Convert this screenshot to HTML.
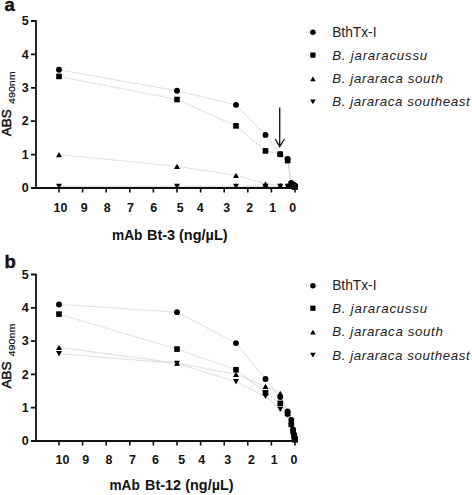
<!DOCTYPE html>
<html><head><meta charset="utf-8"><style>
html,body{margin:0;padding:0;background:#fff;}
svg{display:block;font-family:"Liberation Sans", sans-serif;}
</style></head><body>
<svg width="472" height="495" viewBox="0 0 472 495">
<rect width="472" height="495" fill="#fff"/>
<text x="4.6" y="10.9" font-size="18.5" font-weight="bold" fill="#111" stroke="#111" stroke-width="0.4">a</text>
<polyline points="59,69.76 177,90.81 236,104.83 265.5,134.89 280.25,154.27 287.62,158.94 291.32,182.99 293.16,184.33 294.08,185.33 294.54,186 295,186.33" fill="none" stroke="#d2d2d2" stroke-width="1.15" stroke-dasharray="1.2 0.7"/>
<polyline points="59,76.44 177,99.49 236,125.88 265.5,150.93 280.25,154.27 287.62,160.61 291.32,183.99 293.16,185.33 294.08,186 294.54,186.33 295,186.66" fill="none" stroke="#d2d2d2" stroke-width="1.15" stroke-dasharray="1.2 0.7"/>
<polyline points="59,154.6 177,166.29 236,175.31 265.5,183.99 280.25,185.5 287.62,186 291.32,186.33 293.16,186.33 294.08,186.66 294.54,186.66 295,187" fill="none" stroke="#d2d2d2" stroke-width="1.15" stroke-dasharray="1.2 0.7"/>
<polyline points="59,186.33 177,186.33 236,186.33 265.5,186.33 280.25,186.33 287.62,186.33 291.32,186.66 293.16,186.66 294.08,186.66 294.54,186.66 295,187" fill="none" stroke="#d2d2d2" stroke-width="1.15" stroke-dasharray="1.2 0.7"/>
<g fill="#000">
<circle cx="59" cy="69.76" r="2.95"/>
<circle cx="177" cy="90.81" r="2.95"/>
<circle cx="236" cy="104.83" r="2.95"/>
<circle cx="265.5" cy="134.89" r="2.95"/>
<circle cx="280.25" cy="154.27" r="2.95"/>
<circle cx="287.62" cy="158.94" r="2.95"/>
<circle cx="291.32" cy="182.99" r="2.95"/>
<circle cx="293.16" cy="184.33" r="2.95"/>
<circle cx="294.08" cy="185.33" r="2.95"/>
<circle cx="294.54" cy="186" r="2.95"/>
<circle cx="295" cy="186.33" r="2.95"/>
<rect x="56.2" y="73.64" width="5.6" height="5.6"/>
<rect x="174.2" y="96.69" width="5.6" height="5.6"/>
<rect x="233.2" y="123.08" width="5.6" height="5.6"/>
<rect x="262.7" y="148.13" width="5.6" height="5.6"/>
<rect x="277.45" y="151.47" width="5.6" height="5.6"/>
<rect x="284.82" y="157.81" width="5.6" height="5.6"/>
<rect x="288.52" y="181.19" width="5.6" height="5.6"/>
<rect x="290.36" y="182.53" width="5.6" height="5.6"/>
<rect x="291.28" y="183.2" width="5.6" height="5.6"/>
<rect x="291.74" y="183.53" width="5.6" height="5.6"/>
<rect x="292.2" y="183.86" width="5.6" height="5.6"/>
<path d="M59 151.95L62 157.25L56 157.25Z"/>
<path d="M177 163.64L180 168.94L174 168.94Z"/>
<path d="M236 172.66L239 177.96L233 177.96Z"/>
<path d="M265.5 181.34L268.5 186.64L262.5 186.64Z"/>
<path d="M280.25 182.84L283.25 188.15L277.25 188.15Z"/>
<path d="M287.62 183.35L290.62 188.65L284.62 188.65Z"/>
<path d="M291.32 183.68L294.32 188.98L288.32 188.98Z"/>
<path d="M293.16 183.68L296.16 188.98L290.16 188.98Z"/>
<path d="M294.08 184.01L297.08 189.31L291.08 189.31Z"/>
<path d="M294.54 184.01L297.54 189.31L291.54 189.31Z"/>
<path d="M295 184.35L298 189.65L292 189.65Z"/>
<path d="M59 188.98L62 183.68L56 183.68Z"/>
<path d="M177 188.98L180 183.68L174 183.68Z"/>
<path d="M236 188.98L239 183.68L233 183.68Z"/>
<path d="M265.5 188.98L268.5 183.68L262.5 183.68Z"/>
<path d="M280.25 188.98L283.25 183.68L277.25 183.68Z"/>
<path d="M287.62 188.98L290.62 183.68L284.62 183.68Z"/>
<path d="M291.32 189.31L294.32 184.01L288.32 184.01Z"/>
<path d="M293.16 189.31L296.16 184.01L290.16 184.01Z"/>
<path d="M294.08 189.31L297.08 184.01L291.08 184.01Z"/>
<path d="M294.54 189.31L297.54 184.01L291.54 184.01Z"/>
<path d="M295 189.65L298 184.35L292 184.35Z"/>
</g>
<path d="M279.7 107.5V146M275.2 139L279.7 146.6L284.4 139" stroke="#1a1a1a" stroke-width="1.35" fill="none"/>
<path d="M36 20.3V188.9M31 188H297" stroke="#111" stroke-width="1.8" fill="none"/>
<path d="M31 188H36M31 154.6H36M31 121.2H36M31 87.8H36M31 54.4H36M31 21H36" stroke="#111" stroke-width="1.8" fill="none"/>
<path d="M295 188V192.5M271.4 188V192.5M247.8 188V192.5M224.2 188V192.5M200.6 188V192.5M177 188V192.5M153.4 188V192.5M129.8 188V192.5M106.2 188V192.5M82.6 188V192.5M59 188V192.5" stroke="#111" stroke-width="1.6" fill="none"/>
<g font-size="12.5" font-weight="bold" text-anchor="end" fill="#111">
<text x="28.6" y="192.1">0</text>
<text x="28.6" y="158.7">1</text>
<text x="28.6" y="125.3">2</text>
<text x="28.6" y="91.9">3</text>
<text x="28.6" y="58.5">4</text>
<text x="28.6" y="25.1">5</text>
</g>
<g font-size="12.4" font-weight="bold" text-anchor="middle" fill="#111">
<text x="60.5" y="211.9">10</text>
<text x="84.2" y="211.9">9</text>
<text x="107.1" y="211.9">8</text>
<text x="130.4" y="211.9">7</text>
<text x="153.6" y="211.9">6</text>
<text x="180.2" y="211.9">5</text>
<text x="200.2" y="211.9">4</text>
<text x="226.6" y="211.9">3</text>
<text x="249.7" y="211.9">2</text>
<text x="272.7" y="211.9">1</text>
<text x="292.6" y="211.9">0</text>
</g>
<g font-size="14" font-weight="bold" fill="#111">
<text x="112" y="239.6" textLength="30.5" lengthAdjust="spacingAndGlyphs">mAb</text>
<text x="147" y="239.6" textLength="28.1" lengthAdjust="spacingAndGlyphs">Bt-3</text>
<text x="179" y="239.6" textLength="48.6" lengthAdjust="spacingAndGlyphs">(ng/µL)</text>
</g>
<text transform="translate(11.2 136.2) rotate(-90)" font-size="13.6" fill="#111" stroke="#111" stroke-width="0.5" textLength="27" lengthAdjust="spacingAndGlyphs">ABS</text>
<text transform="translate(15.4 104) rotate(-90)" font-size="9.7" fill="#111" stroke="#111" stroke-width="0.2" textLength="32.7" lengthAdjust="spacingAndGlyphs">490nm</text>
<g font-size="14" fill="#222">
<line x1="306" y1="32.3" x2="320" y2="32.3" stroke="#dadada" stroke-width="1" stroke-dasharray="1.2 0.8"/>
<circle cx="312.9" cy="32.3" r="2.74" fill="#000"/>
<text x="332.2" y="36.7" textLength="44.3" lengthAdjust="spacingAndGlyphs">BthTx-I</text>
<line x1="306" y1="55.1" x2="320" y2="55.1" stroke="#dadada" stroke-width="1" stroke-dasharray="1.2 0.8"/>
<rect x="310.3" y="52.5" width="5.21" height="5.21" fill="#000"/>
<text x="332.2" y="59.8" font-style="italic" font-size="13.3" textLength="95" lengthAdjust="spacing">B. jararacussu</text>
<line x1="306" y1="78.9" x2="320" y2="78.9" stroke="#dadada" stroke-width="1" stroke-dasharray="1.2 0.8"/>
<path d="M312.9 76.44L315.69 81.36L310.11 81.36Z" fill="#000"/>
<text x="332.2" y="83" font-style="italic" font-size="13.3" textLength="110.6" lengthAdjust="spacing">B. jararaca south</text>
<line x1="306" y1="101.9" x2="320" y2="101.9" stroke="#dadada" stroke-width="1" stroke-dasharray="1.2 0.8"/>
<path d="M312.9 104.36L315.69 99.44L310.11 99.44Z" fill="#000"/>
<text x="332.2" y="105.9" font-style="italic" font-size="13.3" textLength="137.4" lengthAdjust="spacing">B. jararaca southeast</text>
</g>
<text x="4.6" y="268.4" font-size="18.5" font-weight="bold" fill="#111" stroke="#111" stroke-width="0.4">b</text>
<polyline points="59,304.47 177,312.13 236,343.1 265.5,379.06 280.25,397.04 287.62,411.36 291.32,420.02 293.16,429.68 294.08,434.34 294.54,437.67 295,439.33" fill="none" stroke="#d2d2d2" stroke-width="1.15" stroke-dasharray="1.2 0.7"/>
<polyline points="59,314.13 177,349.09 236,369.74 265.5,392.72 280.25,403.37 287.62,413.69 291.32,424.35 293.16,431.34 294.08,435.67 294.54,438.34 295,439.67" fill="none" stroke="#d2d2d2" stroke-width="1.15" stroke-dasharray="1.2 0.7"/>
<polyline points="59,347.43 177,363.08 236,374.4 265.5,386.39 280.25,393.38 287.62,412.69 291.32,422.02 293.16,430.68 294.08,435.01 294.54,438 295,439.67" fill="none" stroke="#d2d2d2" stroke-width="1.15" stroke-dasharray="1.2 0.7"/>
<polyline points="59,353.75 177,363.41 236,381.73 265.5,396.38 280.25,409.37 287.62,415.03 291.32,426.01 293.16,432.34 294.08,436.34 294.54,438.67 295,440" fill="none" stroke="#d2d2d2" stroke-width="1.15" stroke-dasharray="1.2 0.7"/>
<g fill="#000">
<circle cx="59" cy="304.47" r="2.95"/>
<circle cx="177" cy="312.13" r="2.95"/>
<circle cx="236" cy="343.1" r="2.95"/>
<circle cx="265.5" cy="379.06" r="2.95"/>
<circle cx="280.25" cy="397.04" r="2.95"/>
<circle cx="287.62" cy="411.36" r="2.95"/>
<circle cx="291.32" cy="420.02" r="2.95"/>
<circle cx="293.16" cy="429.68" r="2.95"/>
<circle cx="294.08" cy="434.34" r="2.95"/>
<circle cx="294.54" cy="437.67" r="2.95"/>
<circle cx="295" cy="439.33" r="2.95"/>
<rect x="56.2" y="311.33" width="5.6" height="5.6"/>
<rect x="174.2" y="346.29" width="5.6" height="5.6"/>
<rect x="233.2" y="366.94" width="5.6" height="5.6"/>
<rect x="262.7" y="389.92" width="5.6" height="5.6"/>
<rect x="277.45" y="400.57" width="5.6" height="5.6"/>
<rect x="284.82" y="410.89" width="5.6" height="5.6"/>
<rect x="288.52" y="421.55" width="5.6" height="5.6"/>
<rect x="290.36" y="428.54" width="5.6" height="5.6"/>
<rect x="291.28" y="432.87" width="5.6" height="5.6"/>
<rect x="291.74" y="435.54" width="5.6" height="5.6"/>
<rect x="292.2" y="436.87" width="5.6" height="5.6"/>
<path d="M59 344.78L62 350.08L56 350.08Z"/>
<path d="M177 360.43L180 365.73L174 365.73Z"/>
<path d="M236 371.75L239 377.05L233 377.05Z"/>
<path d="M265.5 383.74L268.5 389.04L262.5 389.04Z"/>
<path d="M280.25 390.73L283.25 396.03L277.25 396.03Z"/>
<path d="M287.62 410.05L290.62 415.34L284.62 415.34Z"/>
<path d="M291.32 419.37L294.32 424.67L288.32 424.67Z"/>
<path d="M293.16 428.03L296.16 433.33L290.16 433.33Z"/>
<path d="M294.08 432.36L297.08 437.66L291.08 437.66Z"/>
<path d="M294.54 435.35L297.54 440.65L291.54 440.65Z"/>
<path d="M295 437.02L298 442.32L292 442.32Z"/>
<path d="M59 356.4L62 351.1L56 351.1Z"/>
<path d="M177 366.06L180 360.76L174 360.76Z"/>
<path d="M236 384.38L239 379.08L233 379.08Z"/>
<path d="M265.5 399.03L268.5 393.73L262.5 393.73Z"/>
<path d="M280.25 412.01L283.25 406.72L277.25 406.72Z"/>
<path d="M287.62 417.68L290.62 412.38L284.62 412.38Z"/>
<path d="M291.32 428.66L294.32 423.37L288.32 423.37Z"/>
<path d="M293.16 434.99L296.16 429.69L290.16 429.69Z"/>
<path d="M294.08 438.99L297.08 433.69L291.08 433.69Z"/>
<path d="M294.54 441.32L297.54 436.02L291.54 436.02Z"/>
<path d="M295 442.65L298 437.35L292 437.35Z"/>
</g>

<path d="M36 273.8V441.9M31 441H297" stroke="#111" stroke-width="1.8" fill="none"/>
<path d="M31 441H36M31 407.7H36M31 374.4H36M31 341.1H36M31 307.8H36M31 274.5H36" stroke="#111" stroke-width="1.8" fill="none"/>
<path d="M295 441V445.5M271.4 441V445.5M247.8 441V445.5M224.2 441V445.5M200.6 441V445.5M177 441V445.5M153.4 441V445.5M129.8 441V445.5M106.2 441V445.5M82.6 441V445.5M59 441V445.5" stroke="#111" stroke-width="1.6" fill="none"/>
<g font-size="12.5" font-weight="bold" text-anchor="end" fill="#111">
<text x="28.6" y="445.1">0</text>
<text x="28.6" y="411.8">1</text>
<text x="28.6" y="378.5">2</text>
<text x="28.6" y="345.2">3</text>
<text x="28.6" y="311.9">4</text>
<text x="28.6" y="278.6">5</text>
</g>
<g font-size="12.4" font-weight="bold" text-anchor="middle" fill="#111">
<text x="62.4" y="463.9">10</text>
<text x="85.6" y="463.9">9</text>
<text x="109" y="463.9">8</text>
<text x="132.4" y="463.9">7</text>
<text x="155.5" y="463.9">6</text>
<text x="181.7" y="463.9">5</text>
<text x="201.7" y="463.9">4</text>
<text x="227.8" y="463.9">3</text>
<text x="251.4" y="463.9">2</text>
<text x="274.3" y="463.9">1</text>
<text x="294" y="463.9">0</text>
</g>
<g font-size="14" font-weight="bold" fill="#111">
<text x="109.5" y="490.4" textLength="30.3" lengthAdjust="spacingAndGlyphs">mAb</text>
<text x="145.1" y="490.4" textLength="35.8" lengthAdjust="spacingAndGlyphs">Bt-12</text>
<text x="185.3" y="490.4" textLength="48.2" lengthAdjust="spacingAndGlyphs">(ng/µL)</text>
</g>
<text transform="translate(11.2 388.6) rotate(-90)" font-size="13.6" fill="#111" stroke="#111" stroke-width="0.5" textLength="27" lengthAdjust="spacingAndGlyphs">ABS</text>
<text transform="translate(15.4 356.4) rotate(-90)" font-size="9.7" fill="#111" stroke="#111" stroke-width="0.2" textLength="32.7" lengthAdjust="spacingAndGlyphs">490nm</text>
<g font-size="14" fill="#222">
<line x1="306" y1="285.8" x2="320" y2="285.8" stroke="#dadada" stroke-width="1" stroke-dasharray="1.2 0.8"/>
<circle cx="312.9" cy="285.8" r="2.74" fill="#000"/>
<text x="332.2" y="290" textLength="44.3" lengthAdjust="spacingAndGlyphs">BthTx-I</text>
<line x1="306" y1="308.2" x2="320" y2="308.2" stroke="#dadada" stroke-width="1" stroke-dasharray="1.2 0.8"/>
<rect x="310.3" y="305.6" width="5.21" height="5.21" fill="#000"/>
<text x="332.2" y="313.2" font-style="italic" font-size="13.3" textLength="95" lengthAdjust="spacing">B. jararacussu</text>
<line x1="306" y1="332.1" x2="320" y2="332.1" stroke="#dadada" stroke-width="1" stroke-dasharray="1.2 0.8"/>
<path d="M312.9 329.64L315.69 334.56L310.11 334.56Z" fill="#000"/>
<text x="332.2" y="336.3" font-style="italic" font-size="13.3" textLength="110.6" lengthAdjust="spacing">B. jararaca south</text>
<line x1="306" y1="355.1" x2="320" y2="355.1" stroke="#dadada" stroke-width="1" stroke-dasharray="1.2 0.8"/>
<path d="M312.9 357.56L315.69 352.64L310.11 352.64Z" fill="#000"/>
<text x="332.2" y="359.5" font-style="italic" font-size="13.3" textLength="137.4" lengthAdjust="spacing">B. jararaca southeast</text>
</g>
</svg>
</body></html>
